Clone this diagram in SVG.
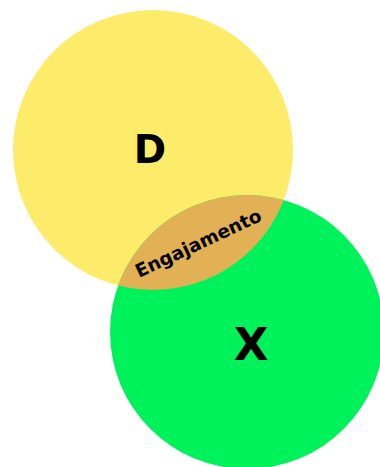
<svg xmlns="http://www.w3.org/2000/svg" width="380" height="467" viewBox="0 0 380 467">
<style>
.lbl{font-family:"DejaVu Sans","Verdana",sans-serif;font-weight:bold;fill:#000;text-anchor:middle}
</style>
<defs>
<clipPath id="clipY"><circle cx="153" cy="150" r="140"/></clipPath>
</defs>
<rect width="380" height="467" fill="#fff"/>
<g id="D">
<circle cx="153" cy="150" r="140" fill="#FDEB6A"/>
<text class="lbl" x="150" y="163" font-size="39">D</text>
</g>
<g id="X">
<circle cx="247" cy="332" r="137" fill="#00F25B"/>
<text class="lbl" x="251" y="360" font-size="45">X</text>
</g>
<g id="Engajamento">
<circle cx="247" cy="332" r="137" fill="#E2B055" clip-path="url(#clipY)"/>
<text class="lbl" x="201" y="249" font-size="18.5" transform="rotate(-25 201 249)">Engajamento</text>
</g>
<g id="connectors"/>
</svg>
